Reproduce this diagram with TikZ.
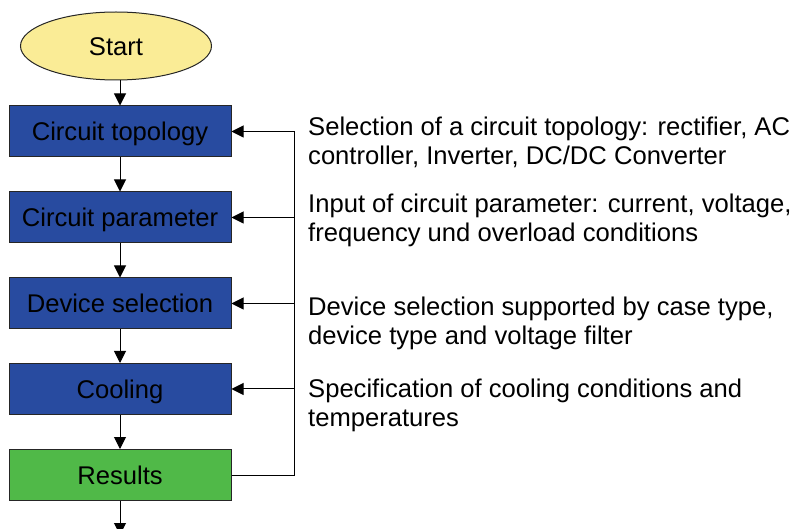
\documentclass[tikz,border=0pt]{standalone}
\usepackage{fontspec}
\setmainfont{Liberation Sans}
\usetikzlibrary{arrows.meta,shapes.geometric}
\definecolor{flowblue}{RGB}{40,75,160}
\definecolor{flowgreen}{RGB}{80,185,72}
\definecolor{flowyellow}{RGB}{250,236,150}

\begin{document}
\begin{tikzpicture}[x=1pt,y=-1pt,>={Triangle[length=12pt,width=12pt]},
  stepbox/.style={draw=black!85,line width=1pt,minimum width=222pt,minimum height=51pt,inner sep=0pt,text height=18.3pt,text depth=0pt,font=\fontsize{25.6}{29}\selectfont},
  note/.style={anchor=base west,align=left,inner sep=0pt,font=\fontsize{25.6}{29}\selectfont},
  flow/.style={->,line width=1pt}]
  \useasboundingbox (0,0) rectangle (793,529);
  % main chain
  \node[draw=black!85,ellipse,fill=flowyellow,line width=1pt,minimum width=191pt,minimum height=68pt,inner sep=0pt,text height=18.3pt,text depth=0pt,font=\fontsize{25.6}{29}\selectfont] (start) at (116,46) {Start};
  \node[stepbox,fill=flowblue] (topo) at (120,131.5) {Circuit topology};
  \node[stepbox,fill=flowblue] (param) at (120,217.5) {Circuit parameter};
  \node[stepbox,fill=flowblue] (dev) at (120,303.5) {Device selection};
  \node[stepbox,fill=flowblue] (cool) at (120,389) {Cooling};
  \node[stepbox,fill=flowgreen] (res) at (120,475) {Results};
  \coordinate (out) at (120,535);
  \coordinate (bus) at (294,475);
  \draw[flow] (start.south -| topo.north) -- (topo.north);
  \draw[flow] (topo.south) -- (param.north);
  \draw[flow] (param.south) -- (dev.north);
  \draw[flow] (dev.south) -- (cool.north);
  \draw[flow] (cool.south) -- (res.north);
  \draw[flow] (res.south) -- (out);
  % feedback
  \draw[flow] (res.east) -- (bus) |- (topo.east);
  \foreach \n in {param,dev,cool}
    \draw[flow] (bus |- \n.east) -- (\n.east);
  % notes (base = last line)
  \node[note] (ntopo) at (308,165) {Selection of a circuit topology: rectifier, AC\\controller, Inverter, DC/DC Converter};
  \node[note] (nparam) at (308,242) {Input of circuit parameter: current, voltage,\\frequency und overload conditions};
  \node[note] (ndev) at (308,345) {Device selection supported by case type,\\device type and voltage filter};
  \node[note] (ncool) at (308,427) {Specification of cooling conditions and\\temperatures};
\end{tikzpicture}
\end{document}
